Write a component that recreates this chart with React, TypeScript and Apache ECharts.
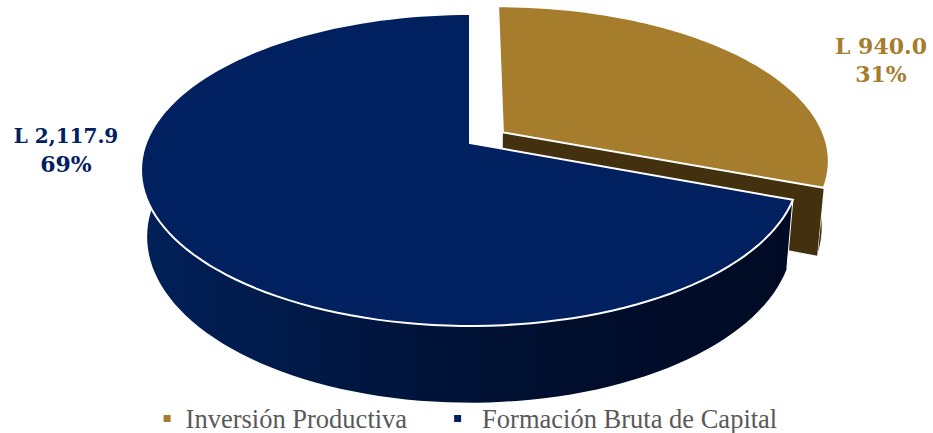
import React, { useEffect, useRef } from "react";
import * as echarts from "echarts";

const categories = ["Inversión Productiva", "Formación Bruta de Capital"];
const values = [940.0, 2117.9];
const capColors = ["#A67C2D", "#002060"];
const labelLines = [
  ["L 940.0", "31%"],
  ["L 2,117.9", "69%"],
];

const total = values.reduce((a, b) => a + b, 0);
const K = 0.173;
const CX = 470;
const TOP = { rx: 324, ry: 151.3, cy: 143 };
const BOTTOM = { rx: 318, ry: 161, cy: 208 };
const EXPLODE = [0.125, 0];

function project(plane: any, u: number, v: number) {
  const d = 1 - K * v;
  return [CX + (plane.rx * u) / d, plane.cy + (plane.ry * v) / d];
}

function sliceRange(i: number) {
  let start = 0;
  for (let j = 0; j < i; j++) start += values[j] / total;
  return [start * Math.PI * 2, (start + values[i] / total) * Math.PI * 2];
}

function geom(i: number) {
  const [a0, a1] = sliceRange(i);
  const mid = (a0 + a1) / 2;
  const ou = EXPLODE[i] * Math.sin(mid);
  const ov = -EXPLODE[i] * Math.cos(mid);
  const rim = (plane: any, from: number, to: number) => {
    const pts: number[][] = [];
    const n = 120;
    for (let s = 0; s <= n; s++) {
      const t = from + ((to - from) * s) / n;
      pts.push(project(plane, Math.sin(t) + ou, -Math.cos(t) + ov));
    }
    return pts;
  };
  return { a0, a1, rim, apexTop: project(TOP, ou, ov), apexBot: project(BOTTOM, ou, ov) };
}

const renderSlice = (i: number) => (_p: any, _api: any) => {
  const { a0, a1, rim, apexTop, apexBot } = geom(i);
  const children: any[] = [];
  const white = "#ffffff";
  if (i === 0) {
    const top = rim(TOP, a0 + 1.0, a1);
    const bot = rim(BOTTOM, a0 + 1.0, a1);
    children.push({
      type: "polygon",
      shape: { points: [...top, ...bot.slice().reverse()] },
      style: { fill: "#43300F", stroke: white, lineWidth: 1 },
    });
    children.push({
      type: "polygon",
      shape: { points: [apexTop, top[top.length - 1], bot[bot.length - 1], apexBot] },
      style: { fill: "#43300F" },
    });
  } else {
    const top = rim(TOP, a0, a1);
    const bot = rim(BOTTOM, a0, a1);
    children.push({
      type: "polygon",
      shape: { points: [top[0], ...bot, top[top.length - 1], ...top.slice().reverse()] },
      style: {
        fill: new echarts.graphic.LinearGradient(0, 0, 1, 0, [
          { offset: 0, color: "#002058" },
          { offset: 0.35, color: "#001640" },
          { offset: 0.65, color: "#000E2C" },
          { offset: 1, color: "#000A24" },
        ]),
      },
    });
    const ot = top[0];
    const ob = bot[0];
    children.push({
      type: "line",
      shape: { x1: ot[0], y1: ot[1], x2: ob[0], y2: ob[1] },
      style: { stroke: white, lineWidth: 1 },
    });
  }
  children.push({
    type: "polygon",
    shape: { points: [apexTop, ...rim(TOP, a0, a1)] },
    style: { fill: capColors[i], stroke: white, lineWidth: 2, lineJoin: "miter" },
  });
  return { type: "group", children };
};

export default function App() {
  const ref = useRef<HTMLDivElement>(null);
  useEffect(() => {
    const chart = echarts.init(ref.current!, undefined, { renderer: "svg" });
    const labelSpots = [
      { x: 881, y: [46, 74], size: [22, 22], idx: 0 },
      { x: 66, y: [136, 164], size: [20, 22], idx: 1 },
    ];
    const textPads = [10, 16];
    chart.setOption({
      animation: false,
      backgroundColor: "#ffffff",
      legend: {
        data: categories.map((name, i) => ({
          name,
          textStyle: { padding: [0, 0, 0, textPads[i]] },
        })),
        top: 400,
        left: 158.6,
        icon: "rect",
        itemWidth: 7,
        itemHeight: 7,
        itemGap: 47,
        textStyle: {
          fontFamily: "Liberation Serif",
          fontSize: 26.5,
          color: "#595959",
        },
      },
      series: categories.map((name, i) => ({
        type: "custom",
        name,
        coordinateSystem: "none",
        renderItem: renderSlice(i),
        data: [values[i]],
        itemStyle: { color: capColors[i] },
        silent: true,
        z: 2 + i,
      })),
      graphic: labelSpots.flatMap((p) =>
        labelLines[p.idx].map((text, j) => ({
          type: "text",
          x: p.x,
          y: p.y[j],
          style: {
            text,
            fill: capColors[p.idx],
            font: `bold ${p.size[j]}px "DejaVu Serif"`,
            align: "center",
            verticalAlign: "middle",
          },
        }))
      ),
    });
    return () => chart.dispose();
  }, []);
  return <div ref={ref} style={{ position: "fixed", left: 0, top: 0, width: 933, height: 433 }} />;
}
